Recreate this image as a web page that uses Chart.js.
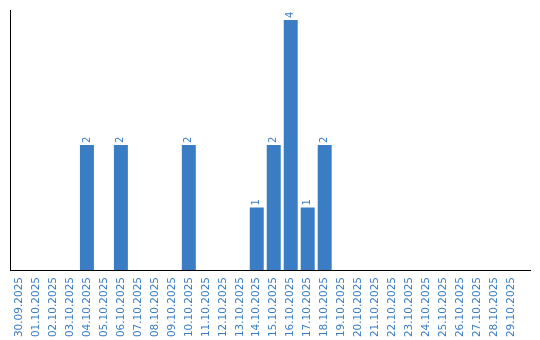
<!DOCTYPE html>
<html>
<head>
<meta charset="utf-8">
<script src="https://cdn.jsdelivr.net/npm/chart.js@4/dist/chart.umd.min.js"></script>
<style>
  html, body { margin: 0; padding: 0; background: #fff; }
  #wrap { width: 540px; height: 340px; }
</style>
</head>
<body>
<div id="wrap"><canvas id="graficoDias"></canvas></div>
<script>
var dias = ['30.09.2025','01.10.2025','02.10.2025','03.10.2025','04.10.2025','05.10.2025',
            '06.10.2025','07.10.2025','08.10.2025','09.10.2025','10.10.2025','11.10.2025',
            '12.10.2025','13.10.2025','14.10.2025','15.10.2025','16.10.2025','17.10.2025',
            '18.10.2025','19.10.2025','20.10.2025','21.10.2025','22.10.2025','23.10.2025',
            '24.10.2025','25.10.2025','26.10.2025','27.10.2025','28.10.2025','29.10.2025'];
var quantidade = [0,0,0,0,2,0,2,0,0,0,2,0,0,0,1,2,4,1,2,0,0,0,0,0,0,0,0,0,0,0];

var azul = '#3b7dc4';

// draws the value above each bar, rotated
var rotulos = {
    id: 'rotulos',
    afterDatasetsDraw: function(chart){
        var ctx = chart.ctx;
        var meta = chart.getDatasetMeta(0);
        ctx.save();
        ctx.fillStyle = azul;
        ctx.font = '10px "DejaVu Sans"';
        ctx.textAlign = 'left';
        ctx.textBaseline = 'middle';
        meta.data.forEach(function(bar, i){
            var v = quantidade[i];
            if (!v) return;
            ctx.save();
            ctx.translate(bar.x, bar.y - 2);
            ctx.rotate(-Math.PI / 2);
            ctx.fillText(String(v), 0, 0);
            ctx.restore();
        });
        ctx.restore();
    }
};

// bottom axis line runs a bit past the last category
var linhaBase = {
    id: 'linhaBase',
    afterDraw: function(chart){
        var ctx = chart.ctx;
        var a = chart.chartArea;
        ctx.save();
        ctx.strokeStyle = '#000';
        ctx.lineWidth = 1;
        ctx.beginPath();
        ctx.moveTo(a.right, a.bottom + 0.5);
        ctx.lineTo(531, a.bottom + 0.5);
        ctx.stroke();
        ctx.restore();
    }
};

var ctxDias = document.getElementById('graficoDias').getContext('2d');
var grafico_dias = new Chart(ctxDias, {
    type: 'bar',
    data: {
        labels: dias,
        datasets: [{
            data: quantidade,
            backgroundColor: azul,
            borderWidth: 0,
            barPercentage: 14 / 17,
            categoryPercentage: 1
        }]
    },
    options: {
        responsive: true,
        maintainAspectRatio: false,
        animation: false,
        layout: { padding: { left: 10, top: 10, right: 20, bottom: 0 } },
        plugins: {
            legend: { display: false },
            tooltip: { enabled: false }
        },
        scales: {
            x: {
                grid: { display: false, drawTicks: false },
                border: { display: true, color: '#000', width: 1 },
                ticks: {
                    color: azul,
                    font: { family: 'DejaVu Sans', size: 10.5 },
                    minRotation: 90,
                    maxRotation: 90,
                    autoSkip: false,
                    padding: 7
                },
                afterFit: function(scale){ scale.height = 70; }
            },
            y: {
                min: 0,
                max: 4.16,
                grid: { display: false, drawTicks: false },
                border: { display: true, color: '#000', width: 1 },
                ticks: { display: false },
                afterFit: function(scale){ scale.width = 0.5; }
            }
        }
    },
    plugins: [rotulos, linhaBase]
});
</script>
</body>
</html>
